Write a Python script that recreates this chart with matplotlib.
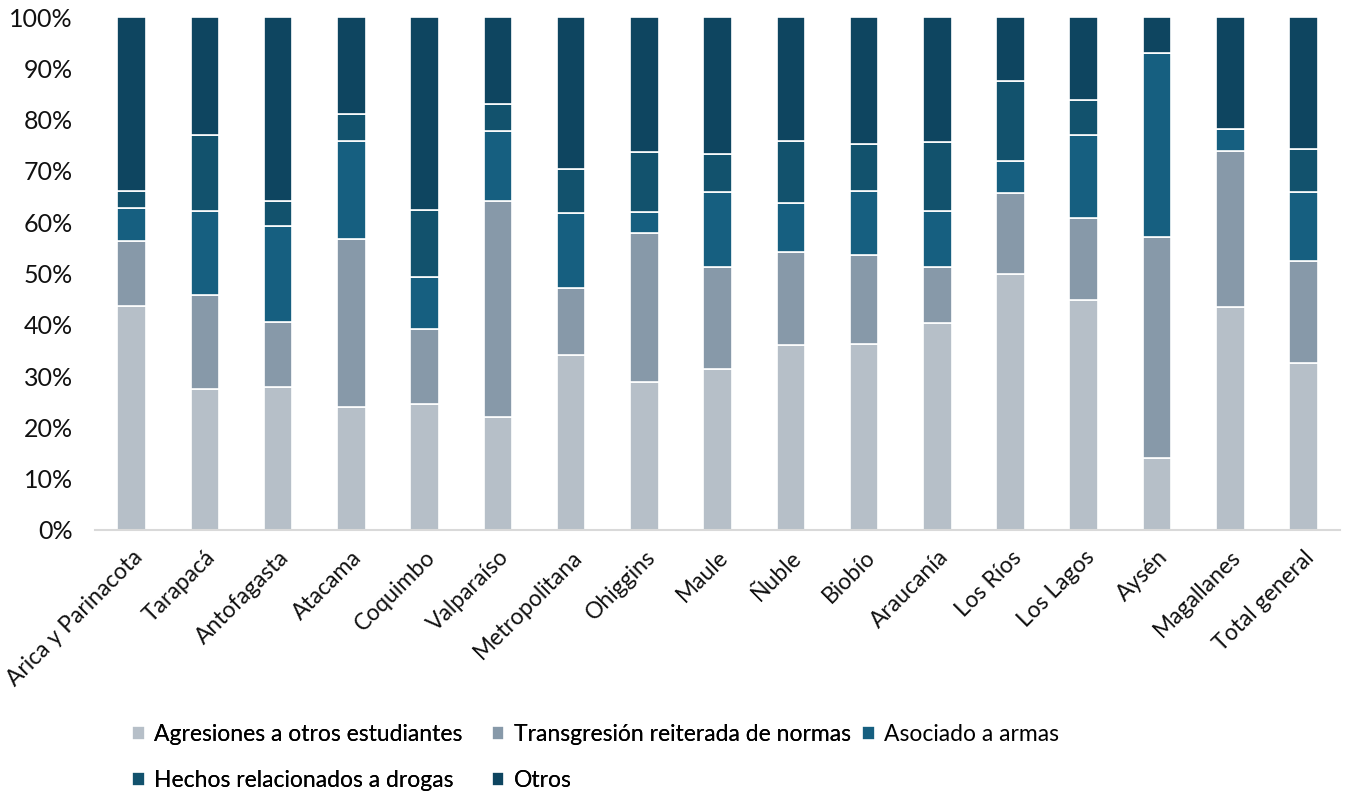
import matplotlib
matplotlib.use("Agg")
import matplotlib.pyplot as plt
import numpy as np

plt.rcParams['font.family'] = ['Lato', 'DejaVu Sans']

regiones = ['Arica y Parinacota', 'Tarapacá', 'Antofagasta', 'Atacama', 'Coquimbo',
            'Valparaíso', 'Metropolitana', 'Ohiggins', 'Maule', 'Ñuble', 'Biobío',
            'Araucanía', 'Los Ríos', 'Los Lagos', 'Aysén', 'Magallanes', 'Total general']

# porcentajes por categoria
agresiones = [43.6, 27.5, 27.9, 24.0, 24.5, 22.0, 34.2, 28.8, 31.4, 36.1, 36.3, 40.4, 49.9, 44.8, 14.1, 43.4, 32.6]
transgresion = [12.7, 18.4, 12.6, 32.8, 14.6, 42.1, 12.9, 29.0, 19.9, 18.0, 17.3, 10.8, 15.7, 16.1, 43.0, 30.4, 19.9]
armas = [6.4, 16.2, 18.8, 19.1, 10.2, 13.6, 14.6, 4.1, 14.5, 9.7, 12.5, 10.9, 6.4, 16.1, 35.8, 4.4, 13.3]
drogas = [3.3, 14.9, 4.8, 5.2, 13.0, 5.4, 8.7, 11.8, 7.5, 12.1, 9.1, 13.6, 15.6, 6.9, 0.0, 0.0, 8.4]
otros = [34.0, 23.0, 35.9, 18.9, 37.7, 16.9, 29.6, 26.3, 26.7, 24.1, 24.8, 24.3, 12.4, 16.1, 7.1, 21.8, 25.8]

series = [agresiones, transgresion, armas, drogas, otros]
nombres = ['Agresiones a otros estudiantes', 'Transgresión reiterada de normas',
           'Asociado a armas', 'Hechos relacionados a drogas', 'Otros']
colores = ['#b6bfc8', '#8799a9', '#165f80', '#12526d', '#0e4560']

fig = plt.figure(figsize=(13.46, 7.91), dpi=100)
ax = fig.add_axes([0.0706, 0.330, 0.925, 0.6485])

x = np.arange(len(regiones))
base = np.zeros(len(regiones))
handles = []
for vals, nom, col in zip(series, nombres, colores):
    vals = np.array(vals)
    b = ax.bar(x, vals, 0.39, bottom=base, color=col, edgecolor='white',
               linewidth=1.2, label=nom)
    handles.append(b)
    base += vals

ax.set_xlim(-0.5, len(regiones) - 0.5)
ax.set_ylim(0, 100)
ax.set_yticks(np.arange(0, 101, 10))
ax.set_yticklabels([f'{v}%' for v in range(0, 101, 10)], fontsize=18, color='#111111')
ax.set_xticks(x)
ax.set_xticklabels(regiones, rotation=45, ha='right', rotation_mode='anchor',
                   fontsize=16.5, color='#111111')
ax.tick_params(axis='y', length=0, pad=16)
ax.tick_params(axis='x', length=0, pad=12)
for s in ['top', 'right', 'left']:
    ax.spines[s].set_visible(False)
ax.spines['bottom'].set_color('#d9d9d9')
ax.spines['bottom'].set_linewidth(1.5)

# leyenda: dos columnas + "Asociado a armas" aparte en la primera fila
orden = [0, 3, 1, 4]
leg1 = fig.legend([handles[i] for i in orden], [nombres[i] for i in orden],
                  loc='upper left', bbox_to_anchor=(0.098, 0.085), ncol=2, frameon=False,
                  fontsize=16.5, handlelength=0.55, handleheight=0.55, handletextpad=0.4,
                  columnspacing=1.3, labelspacing=1.1, borderaxespad=0, borderpad=0)
fig.add_artist(leg1)
fig.legend([handles[2]], [nombres[2]],
           loc='upper left', bbox_to_anchor=(0.6405, 0.085), frameon=False,
           fontsize=16.5, handlelength=0.55, handleheight=0.55, handletextpad=0.4,
           borderaxespad=0, borderpad=0)

fig.savefig('out.png', dpi=100)
